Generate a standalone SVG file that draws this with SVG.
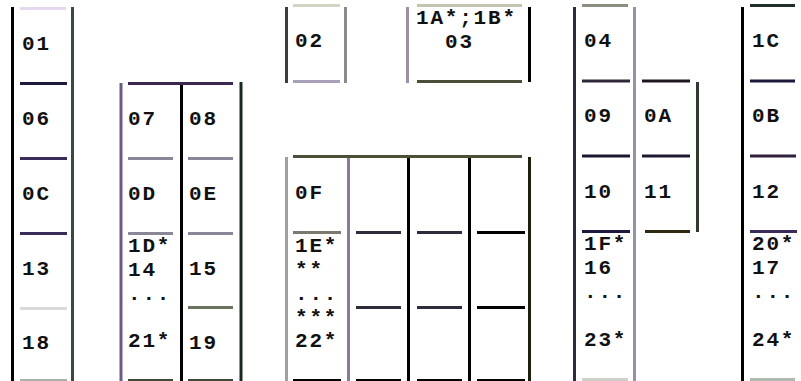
<svg xmlns="http://www.w3.org/2000/svg" width="801" height="381" viewBox="0 0 801 381">
<style>
  text { font-family: "Liberation Mono", "DejaVu Sans Mono", monospace; font-size: 21px; letter-spacing: 1.8px; font-weight: bold; fill: #111; }
  line { stroke-width: 3; }
  .k { stroke: #000; }
  .d { stroke: #2c2c3c; }
  .dg { stroke: #3a4a40; }
  .p { stroke: #6c5c84; }
  .g { stroke: #9a90a8; }
  .gg { stroke: #a0a0a0; }
  .pp { stroke: #3a2c58; }
  .n { stroke: #1c1a3c; }
  .mg { stroke: #8a8898; }
  .ol { stroke: #4a5038; }
</style>
<rect width="801" height="381" fill="#fff"/>
<g id="grid">
  <!-- column A -->
  <line class="k" x1="12.5" y1="7" x2="12.5" y2="381"/>
  <line class="dg" x1="72.5" y1="7" x2="72.5" y2="381"/>
  <line stroke="#e6d8ee" x1="20" y1="8.5" x2="66" y2="8.5"/>
  <line class="n" x1="20" y1="83.5" x2="67" y2="83.5"/>
  <line class="pp" x1="20" y1="158.5" x2="67" y2="158.5"/>
  <line class="pp" x1="20" y1="233.5" x2="67" y2="233.5"/>
  <line stroke="#dadada" x1="20" y1="308.5" x2="67" y2="308.5"/>
  <line stroke="#a8b0a8" x1="20" y1="380.5" x2="67" y2="380.5"/>
  <!-- column B -->
  <line class="p" x1="121" y1="83" x2="121" y2="381"/>
  <line class="k" x1="181.5" y1="83" x2="181.5" y2="381"/>
  <line stroke="#1a2a20" x1="241" y1="82" x2="241" y2="381"/>
  <line stroke="#3a2850" x1="128" y1="83.5" x2="233" y2="83.5"/>
  <line class="mg" x1="128" y1="158.5" x2="173" y2="158.5"/>
  <line class="mg" x1="188" y1="158.5" x2="233" y2="158.5"/>
  <line class="mg" x1="128" y1="233.5" x2="173" y2="233.5"/>
  <line class="mg" x1="188" y1="233.5" x2="233" y2="233.5"/>
  <line stroke="#6a7260" x1="188" y1="307.5" x2="233" y2="307.5"/>
  <line stroke="#404838" x1="128" y1="380.5" x2="173" y2="380.5"/>
  <line stroke="#404838" x1="188" y1="380.5" x2="233" y2="380.5"/>
  <!-- cell 02 -->
  <line stroke="#384038" x1="286.5" y1="7" x2="286.5" y2="83"/>
  <line stroke="#8a8a8a" x1="345.5" y1="7" x2="345.5" y2="83"/>
  <line stroke="#d4d4c4" x1="293" y1="5.5" x2="340" y2="5.5"/>
  <line stroke="#a8a0b8" x1="293" y1="81.5" x2="340" y2="81.5"/>
  <!-- cell 03 -->
  <line class="g" x1="407.5" y1="7" x2="407.5" y2="83"/>
  <line class="k" x1="529.5" y1="7" x2="529.5" y2="82"/>
  <line stroke="#c4c4b0" x1="417" y1="5.5" x2="522" y2="5.5"/>
  <line class="ol" x1="417" y1="81.5" x2="522" y2="81.5"/>
  <!-- block E -->
  <line class="gg" x1="286.5" y1="157" x2="286.5" y2="381"/>
  <line stroke="#8a7a9a" x1="348.5" y1="157" x2="348.5" y2="381"/>
  <line class="k" x1="408.5" y1="157" x2="408.5" y2="381"/>
  <line class="k" x1="469.5" y1="157" x2="469.5" y2="381"/>
  <line stroke="#1a2010" x1="529.5" y1="157" x2="529.5" y2="381"/>
  <line class="ol" x1="293" y1="156.5" x2="522" y2="156.5"/>
  <line stroke="#7a7a70" x1="293" y1="232.5" x2="341" y2="232.5"/>
  <line class="d" x1="356" y1="232.5" x2="401" y2="232.5"/>
  <line class="d" x1="417" y1="232.5" x2="462" y2="232.5"/>
  <line class="k" x1="477" y1="232.5" x2="525" y2="232.5"/>
  <line class="d" x1="356" y1="307.5" x2="401" y2="307.5"/>
  <line class="d" x1="417" y1="307.5" x2="462" y2="307.5"/>
  <line class="k" x1="477" y1="307.5" x2="525" y2="307.5"/>
  <line class="k" x1="293" y1="380.5" x2="341" y2="380.5"/>
  <line class="k" x1="356" y1="380.5" x2="401" y2="380.5"/>
  <line class="k" x1="417" y1="380.5" x2="462" y2="380.5"/>
  <line class="k" x1="477" y1="380.5" x2="525" y2="380.5"/>
  <!-- column F -->
  <line class="d" x1="574.5" y1="7" x2="574.5" y2="381"/>
  <line class="g" x1="634.5" y1="7" x2="634.5" y2="381"/>
  <line stroke="#8a9080" x1="582" y1="5.5" x2="628" y2="5.5"/>
  <line stroke="#302838" x1="582" y1="81" x2="630" y2="81"/>
  <line stroke="#1a1830" x1="582" y1="156" x2="630" y2="156"/>
  <line class="n" x1="582" y1="231.5" x2="630" y2="231.5"/>
  <line stroke="#d0d0c8" x1="582" y1="379.5" x2="628" y2="379.5"/>
  <!-- column G -->
  <line stroke="#303830" x1="697.5" y1="82" x2="697.5" y2="232"/>
  <line stroke="#201820" x1="642" y1="81" x2="690" y2="81"/>
  <line stroke="#201830" x1="642" y1="156" x2="690" y2="156"/>
  <line stroke="#302810" x1="645" y1="231.5" x2="690" y2="231.5"/>
  <!-- column H -->
  <line class="k" x1="742.5" y1="7" x2="742.5" y2="381"/>
  <line stroke="#203028" x1="750" y1="5.5" x2="795" y2="5.5"/>
  <line class="n" x1="750" y1="81" x2="795" y2="81"/>
  <line stroke="#30203e" x1="750" y1="156" x2="796" y2="156"/>
  <line class="pp" x1="750" y1="231.5" x2="797" y2="231.5"/>
  <line stroke="#b0b8b0" x1="750" y1="379.5" x2="795" y2="379.5"/>
</g>
<g id="connectors"></g>
<g id="n01"><text x="22" y="50">01</text></g>
<g id="n06"><text x="22" y="125">06</text></g>
<g id="n0C"><text x="22" y="200">0C</text></g>
<g id="n13"><text x="22" y="275">13</text></g>
<g id="n18"><text x="22" y="349">18</text></g>
<g id="n07"><text x="128" y="125">07</text></g>
<g id="n08"><text x="189" y="125">08</text></g>
<g id="n0D"><text x="128" y="200">0D</text></g>
<g id="n0E"><text x="189" y="200">0E</text></g>
<g id="n14"><text x="128" y="252"><tspan x="128" y="252">1D*</tspan><tspan x="128" y="276">14</tspan><tspan x="128" y="300">...</tspan><tspan x="128" y="347">21*</tspan></text></g>
<g id="n15"><text x="189" y="275">15</text></g>
<g id="n19"><text x="189" y="349">19</text></g>
<g id="n02"><text x="295" y="47">02</text></g>
<g id="n03"><text x="416" y="24"><tspan x="416" y="24">1A*;1B*</tspan><tspan x="445" y="48">03</tspan></text></g>
<g id="n0F"><text x="295" y="199">0F</text></g>
<g id="n1E"><text x="295" y="252"><tspan x="295" y="252">1E*</tspan><tspan x="295" y="276">**</tspan><tspan x="295" y="300">...</tspan><tspan x="295" y="324">***</tspan><tspan x="295" y="347">22*</tspan></text></g>
<g id="n04"><text x="584" y="47">04</text></g>
<g id="n09"><text x="584" y="122">09</text></g>
<g id="n10"><text x="584" y="198">10</text></g>
<g id="n16"><text x="584" y="250"><tspan x="584" y="250">1F*</tspan><tspan x="584" y="274">16</tspan><tspan x="584" y="298">...</tspan><tspan x="584" y="346">23*</tspan></text></g>
<g id="n0A"><text x="644" y="122">0A</text></g>
<g id="n11"><text x="644" y="198">11</text></g>
<g id="n1C"><text x="752" y="47">1C</text></g>
<g id="n0B"><text x="752" y="122">0B</text></g>
<g id="n12"><text x="752" y="198">12</text></g>
<g id="n17"><text x="752" y="250"><tspan x="752" y="250">20*</tspan><tspan x="752" y="274">17</tspan><tspan x="752" y="298">...</tspan><tspan x="752" y="346">24*</tspan></text></g>
</svg>
